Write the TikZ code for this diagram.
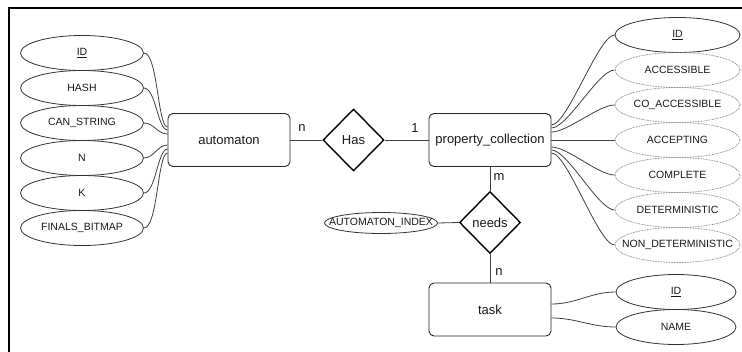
\documentclass[tikz,border=0pt]{standalone}
\usepackage{fontspec}
\setmainfont{Liberation Sans}
\usetikzlibrary{shapes.geometric}
\newcommand{\ztxt}[1]{\makebox[0pt]{#1}}
\begin{document}
\begin{tikzpicture}[x=1pt,y=-1pt,
  entbox/.style={draw=black!85, line width=0.9pt, rounded corners=5pt, rectangle,
    minimum width=122pt, minimum height=53pt, inner sep=0pt, text=black!90,
    font=\fontsize{13}{15}\selectfont},
  attr/.style={ellipse, draw=black!80, line width=0.8pt, minimum width=123pt,
    minimum height=35pt, inner sep=0pt, text=black!90, font=\fontsize{10.5}{12}\selectfont},
  dattr/.style={attr, draw=black!45, dash pattern=on 0.8pt off 0.8pt},
  relbox/.style={diamond, draw=black, line width=1.4pt, minimum width=61pt,
    minimum height=62pt, inner sep=0pt, text=black!90, font=\fontsize{13}{15}\selectfont},
  conn/.style={draw=black!75, line width=0.8pt},
  card/.style={font=\fontsize{13}{15}\selectfont, text=black!90, inner sep=0pt}]
\useasboundingbox (0,0) rectangle (742,351);
\fill[white] (0,0) rectangle (742,351);
\draw[line width=2pt] (9,352) -- (9,8) -- (743,8);

% entities
\node[entbox] (auto) at (229,140) {automaton};
\node[entbox] (pc) at (490,140) {property\_collection};
\node[entbox] (task) at (490,309.5) {task};

% relationships
\node[relbox] (has) at (353.5,140) {Has};
\node[relbox] (needs) at (490,222.5) {needs};

% automaton attributes
\node[attr] (a1) at (82,53) {\ztxt{\underline{ID}}};
\node[attr] (a2) at (82,88) {\ztxt{HASH}};
\node[attr] (a3) at (82,123) {\ztxt{CAN\_STRING}};
\node[attr] (a4) at (82,158) {\ztxt{N}};
\node[attr] (a5) at (82,193) {\ztxt{K}};
\node[attr] (a6) at (82,228) {\ztxt{FINALS\_BITMAP}};

% property_collection attributes
\node[attr, minimum width=125pt] (p1) at (677.5,35) {\ztxt{\underline{ID}}};
\node[dattr, minimum width=125pt] (p2) at (677.5,70) {\ztxt{ACCESSIBLE}};
\node[dattr, minimum width=125pt] (p3) at (677.5,105) {\ztxt{CO\_ACCESSIBLE}};
\node[dattr, minimum width=125pt] (p4) at (677.5,140) {\ztxt{ACCEPTING}};
\node[dattr, minimum width=125pt] (p5) at (677.5,175) {\ztxt{COMPLETE}};
\node[dattr, minimum width=125pt] (p6) at (677.5,210) {\ztxt{DETERMINISTIC}};
\node[dattr, minimum width=125pt] (p7) at (677.5,245) {\ztxt{NON\_DETERMINISTIC}};

% task attributes
\node[attr, minimum width=120pt] (t1) at (676,292) {\ztxt{\underline{ID}}};
\node[attr, minimum width=120pt] (t2) at (676,327) {\ztxt{NAME}};

% relationship attribute
\node[attr, minimum width=113pt, minimum height=21pt] (ai) at (381,223) {\ztxt{AUTOMATON\_INDEX}};

% relationship connectors
\draw[conn] (auto.east) -- (has.west);
\draw[conn] (has.east) -- (pc.west);
\draw[conn] (pc.south) -- (needs.north);
\draw[conn] (needs.south) -- (task.north);
\draw[conn] (ai.east) -- (needs.west);

% cardinalities
\node[card] (c1) at (302,128) {n};
\node[card] (c2) at (415,128) {1};
\node[card] (c3) at (499,177) {m};
\node[card] (c4) at (499,272) {n};

% automaton attribute connectors
\draw[conn] (a1.east) .. controls +(14,0) and +(-10,0) .. ([yshift=13pt]auto.west);
\draw[conn] (a2.east) .. controls +(12,0) and +(-10,0) .. ([yshift=10pt]auto.west);
\draw[conn] (a3.east) .. controls +(10,0) and +(-10,0) .. ([yshift=6pt]auto.west);
\draw[conn] (a4.east) .. controls +(10,0) and +(-10,0) .. ([yshift=-5pt]auto.west);
\draw[conn] (a5.east) .. controls +(12,0) and +(-10,0) .. ([yshift=-9pt]auto.west);
\draw[conn] (a6.east) .. controls +(14,0) and +(-10,0) .. ([yshift=-13pt]auto.west);

% property_collection attribute connectors
\draw[conn] ([yshift=15pt]pc.east) .. controls +(16,0) and +(-16,0) .. (p1.west);
\draw[conn] ([yshift=12pt]pc.east) .. controls +(16,0) and +(-16,0) .. (p2.west);
\draw[conn] ([yshift=8pt]pc.east) .. controls +(16,0) and +(-16,0) .. (p3.west);
\draw[conn] (pc.east) -- (p4.west);
\draw[conn] ([yshift=-7pt]pc.east) .. controls +(16,0) and +(-16,0) .. (p5.west);
\draw[conn] ([yshift=-10pt]pc.east) .. controls +(16,0) and +(-16,0) .. (p6.west);
\draw[conn] ([yshift=-13pt]pc.east) .. controls +(16,0) and +(-16,0) .. (p7.west);

% task attribute connectors
\draw[conn] ([yshift=5.5pt]task.east) .. controls +(25,0) and +(-25,0) .. (t1.west);
\draw[conn] ([yshift=-8.5pt]task.east) .. controls +(25,0) and +(-25,0) .. (t2.west);
\end{tikzpicture}
\end{document}
